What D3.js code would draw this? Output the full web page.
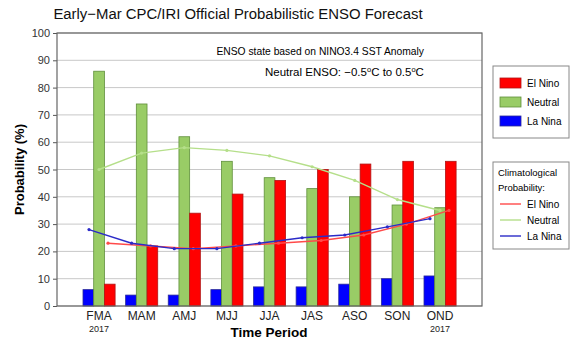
<!DOCTYPE html>
<html>
<head>
<meta charset="utf-8">
<script src="https://cdn.jsdelivr.net/npm/d3@7"></script>
<style>
  body { margin: 0; background: #fff; }
  text { font-family: "Liberation Sans", Arial, sans-serif; }
</style>
</head>
<body>
<script>
const WIDTH = 575;
const HEIGHT = 350;

var periods = ['FMA', 'MAM', 'AMJ', 'MJJ', 'JJA', 'JAS', 'ASO', 'SON', 'OND'];
var elNino = [8, 22, 34, 41, 46, 50, 52, 53, 53];
var neutral = [86, 74, 62, 53, 47, 43, 40, 37, 36];
var laNina = [6, 4, 4, 6, 7, 7, 8, 10, 11];
var climElNino = [23, 22, 21, 22, 23, 24, 26, 30, 35];
var climNeutral = [50, 56, 58, 57, 55, 51, 46, 39, 35];
var climLaNina = [28, 23, 21, 21, 23, 25, 26, 29, 32];
var yTicks = [0, 10, 20, 30, 40, 50, 60, 70, 80, 90, 100];

var svg = d3.select('body').append('svg')
    .attr('width', WIDTH)
    .attr('height', HEIGHT);

var plotLeft = 57, plotRight = 482, plotTop = 33, plotBottom = 306;

var xScale = d3.scalePoint()
    .domain(periods)
    .range([99, 440]);
var yScale = d3.scaleLinear()
    .domain([0, 100])
    .range([plotBottom, plotTop]);

// grid
svg.append('g')
    .selectAll('line')
    .data(yTicks)
    .enter()
    .append('line')
    .attr('x1', plotLeft)
    .attr('x2', plotRight)
    .attr('y1', function (d) { return yScale(d); })
    .attr('y2', function (d) { return yScale(d); })
    .attr('stroke', '#c8c8c8')
    .attr('stroke-width', 1);

// y axis
var yAxis = d3.axisLeft(yScale).tickValues(yTicks).tickSize(4).tickPadding(3);
var yg = svg.append('g')
    .attr('transform', 'translate(' + plotLeft + ',0)')
    .call(yAxis);
yg.select('.domain').remove();
yg.selectAll('line').attr('stroke', '#555');
yg.selectAll('text').attr('font-size', 11).attr('fill', '#333')
    .style('font-family', '"Liberation Sans", Arial, sans-serif');

// bars
var barW = 10.7;
var series = [
    { values: laNina, off: -16, fill: '#0000ff', stroke: '#2a2a9a' },
    { values: neutral, off: -5.3, fill: '#99cc66', stroke: '#5f8f3a' },
    { values: elNino, off: 5.4, fill: '#ff0000', stroke: '#b01515' }
];
series.forEach(function (s) {
    svg.append('g')
        .selectAll('rect')
        .data(s.values)
        .enter()
        .append('rect')
        .attr('x', function (d, i) { return xScale(periods[i]) + s.off; })
        .attr('y', function (d) { return yScale(d); })
        .attr('width', barW)
        .attr('height', function (d) { return yScale(0) - yScale(d); })
        .attr('fill', s.fill)
        .attr('stroke', s.stroke)
        .attr('stroke-width', 0.8);
});

// climatological lines
var climSeries = [
    { values: climNeutral, off: 0, color: '#b5df8a' },
    { values: climElNino, off: 9, color: '#ff4a4a' },
    { values: climLaNina, off: -10, color: '#2b2bc8' }
];
climSeries.forEach(function (s) {
    var line = d3.line()
        .x(function (d, i) { return xScale(periods[i]) + s.off; })
        .y(function (d) { return yScale(d); });
    svg.append('path')
        .attr('d', line(s.values))
        .attr('fill', 'none')
        .attr('stroke', s.color)
        .attr('stroke-width', 1.4);
    svg.append('g')
        .selectAll('circle')
        .data(s.values)
        .enter()
        .append('circle')
        .attr('cx', function (d, i) { return xScale(periods[i]) + s.off; })
        .attr('cy', function (d) { return yScale(d); })
        .attr('r', 1.6)
        .attr('fill', s.color);
});

// frame
svg.append('rect')
    .attr('x', plotLeft)
    .attr('y', plotTop)
    .attr('width', plotRight - plotLeft)
    .attr('height', plotBottom - plotTop)
    .attr('fill', 'none')
    .attr('stroke', '#666')
    .attr('stroke-width', 1.2);

// x labels
svg.append('g')
    .selectAll('text')
    .data(periods)
    .enter()
    .append('text')
    .attr('x', function (d) { return xScale(d); })
    .attr('y', 320)
    .attr('text-anchor', 'middle')
    .attr('font-size', 12)
    .attr('fill', '#222')
    .text(function (d) { return d; });
[periods[0], periods[periods.length - 1]].forEach(function (p) {
    svg.append('text')
        .attr('x', xScale(p))
        .attr('y', 332)
        .attr('text-anchor', 'middle')
        .attr('font-size', 9)
        .attr('fill', '#222')
        .text('2017');
});

svg.append('text')
    .attr('x', 269)
    .attr('y', 337)
    .attr('text-anchor', 'middle')
    .attr('font-size', 13.5)
    .attr('font-weight', 'bold')
    .text('Time Period');

svg.append('text')
    .attr('transform', 'translate(24,' + ((plotTop + plotBottom) / 2) + ') rotate(-90)')
    .attr('text-anchor', 'middle')
    .attr('font-size', 13)
    .attr('font-weight', 'bold')
    .text('Probability (%)');

// title
svg.append('text')
    .attr('x', 238)
    .attr('y', 19)
    .attr('text-anchor', 'middle')
    .attr('font-size', 14.9)
    .attr('fill', '#111')
    .text('Early\u2212Mar CPC/IRI Official Probabilistic ENSO Forecast');

// annotations
svg.append('text')
    .attr('x', 424)
    .attr('y', 55)
    .attr('text-anchor', 'end')
    .attr('font-size', 10.3)
    .text('ENSO state based on NINO3.4 SST Anomaly');

var note = svg.append('text')
    .attr('x', 265)
    .attr('y', 76)
    .attr('font-size', 11.5);
note.append('tspan').text('Neutral ENSO: \u22120.5');
note.append('tspan').attr('dy', -4).attr('font-size', 7.5).text('o');
note.append('tspan').attr('dy', 4).text('C to 0.5');
note.append('tspan').attr('dy', -4).attr('font-size', 7.5).text('o');
note.append('tspan').attr('dy', 4).text('C');

// legend 1
var legend1 = svg.append('g');
legend1.append('rect')
    .attr('x', 493).attr('y', 66).attr('width', 76).attr('height', 72)
    .attr('fill', '#fff').attr('stroke', '#888');
var legItems = [
    { name: 'El Nino', fill: '#ff0000', stroke: '#b01515' },
    { name: 'Neutral', fill: '#99cc66', stroke: '#5f8f3a' },
    { name: 'La Nina', fill: '#0000ff', stroke: '#2a2a9a' }
];
legItems.forEach(function (d, i) {
    var cy = 83 + i * 19;
    legend1.append('rect')
        .attr('x', 500).attr('y', cy - 5).attr('width', 21).attr('height', 10)
        .attr('fill', d.fill).attr('stroke', d.stroke).attr('stroke-width', 0.8);
    legend1.append('text')
        .attr('x', 527).attr('y', cy + 4)
        .attr('font-size', 10)
        .text(d.name);
});

// legend 2
var legend2 = svg.append('g');
legend2.append('rect')
    .attr('x', 493).attr('y', 162).attr('width', 76).attr('height', 87)
    .attr('fill', '#fff').attr('stroke', '#888');
legend2.append('text').attr('x', 498).attr('y', 176).attr('font-size', 9.5).text('Climatological');
legend2.append('text').attr('x', 498).attr('y', 191).attr('font-size', 9.5).text('Probability:');
var legLines = [
    { name: 'El Nino', color: '#ff4a4a' },
    { name: 'Neutral', color: '#b5df8a' },
    { name: 'La Nina', color: '#2b2bc8' }
];
legLines.forEach(function (d, i) {
    var cy = 204 + i * 16;
    legend2.append('line')
        .attr('x1', 500).attr('x2', 521).attr('y1', cy).attr('y2', cy)
        .attr('stroke', d.color).attr('stroke-width', 1.4);
    legend2.append('text')
        .attr('x', 527).attr('y', cy + 4)
        .attr('font-size', 10)
        .text(d.name);
});
</script>
</body>
</html>
